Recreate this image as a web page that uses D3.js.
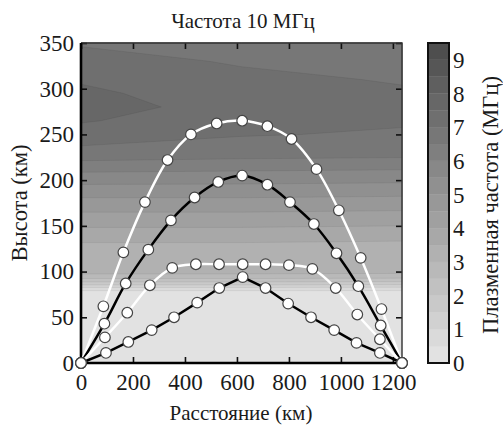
<!DOCTYPE html>
<html>
<head>
<meta charset="utf-8">
<script src="https://cdn.jsdelivr.net/npm/d3@7"></script>
<style>
  body { margin: 0; background: #fff; }
  text { font-family: "Liberation Serif", "Times New Roman", serif; fill: #1a1a1a; }
</style>
</head>
<body>
<div id="viz"></div>
<script>
// plasma frequency grid (MHz): columns at these distances, rows at these heights
const distances = [0, 617, 1235]
const heights = [0, 78, 82, 86, 90, 94, 98, 102, 130, 150, 170, 190, 210, 230, 250, 265, 280, 295, 310, 330, 350]
const freqLeft  = [0.2, 0.35, 0.9, 1.6, 2.2, 2.7, 3.05, 3.2, 3.45, 4.05, 4.65, 5.3, 6.05, 6.85, 7.25, 7.55, 7.75, 7.6, 7.45, 7.2, 6.95]
const freqMid   = [0.2, 0.35, 0.9, 1.6, 2.2, 2.7, 3.05, 3.2, 3.45, 4.05, 4.65, 5.3, 6.0, 6.75, 7.03, 7.15, 7.25, 7.22, 7.12, 6.95, 6.75]
const freqRight = [0.2, 0.35, 0.85, 1.55, 2.15, 2.65, 3.0, 3.15, 3.4, 4.0, 4.6, 5.25, 5.95, 6.7, 6.95, 7.05, 7.1, 7.06, 6.96, 6.8, 6.6]
const levels = [0, 0.5, 1, 1.5, 2, 2.5, 3, 3.5, 4, 4.5, 5, 5.5, 6, 6.5, 7, 7.5, 8, 8.5, 9]

// ray paths [distance km, height km]
const ray1 = [[0,0],[86,62],[163,121],[246,176],[333,222],[423,250],[522,262],[620,265],[717,259],[810,245],[906,212],[992,167],[1076,115],[1156,59],[1235,0]]
const ray2 = [[0,0],[90,43],[172,87],[259,124],[346,156],[437,181],[528,198],[620,205],[717,195],[804,176],[896,152],[983,120],[1067,84],[1153,41],[1235,0]]
const ray3 = [[0,0],[92,28],[178,55],[265,85],[351,104],[442,108],[531,108],[622,108],[710,108],[800,107],[890,103],[980,82],[1063,53],[1150,26],[1235,0]]
const ray4 = [[0,0],[96,11],[182,23],[272,36],[358,50],[447,66],[532,82],[622,94],[710,82],[797,65],[885,50],[974,36],[1060,22],[1150,11],[1235,0]]

const xTicks = [0, 200, 400, 600, 800, 1000, 1200]
const yTicks = [0, 50, 100, 150, 200, 250, 300, 350]
const cbTicks = [0, 1, 2, 3, 4, 5, 6, 7, 8, 9]

const width = 503
const height = 432
const margin = {top: 43, left: 81}
const plotW = 321
const plotH = 320

const svg = d3.select("#viz").append("svg").attr("width", width).attr("height", height)
const wrapper = svg.append("g").attr("transform", `translate(${margin.left},${margin.top})`)

const xScale = d3.scaleLinear().domain([0, 1235]).range([0, plotW])
const yScale = d3.scaleLinear().domain([0, 350]).range([plotH, 0])
const color = d3.scaleLinear().domain([0, 9.5]).range(["#e6e6e6", "#4a4a4a"])

// filled contours
const grid = []
heights.forEach((h, j) => grid.push(freqLeft[j], freqMid[j], freqRight[j]))
const contours = d3.contours().size([distances.length, heights.length]).thresholds(levels)(grid)
const gx = d3.scaleLinear().domain(distances.map((d, i) => i + 0.5)).range(distances).clamp(true)
const gy = d3.scaleLinear().domain(heights.map((d, i) => i + 0.5)).range(heights).clamp(true)
const proj = d3.geoTransform({point(x, y) { this.stream.point(xScale(gx(x)), yScale(gy(y))) }})
const path = d3.geoPath(proj)

wrapper.append("g").selectAll("path")
  .data(contours)
  .join("path")
  .attr("d", path)
  .attr("fill", d => color(d.value + 0.25))
  .attr("stroke", "rgba(0,0,0,0.1)")
  .attr("stroke-width", 0.6)

// axes, ticks inward
const tickStyle = g => {
  g.select(".domain").remove()
  g.selectAll(".tick line").attr("stroke", "#111").attr("stroke-width", 1.6)
  g.selectAll("text").style("font-size", "23px").attr("fill", "#1a1a1a")
}
wrapper.append("g").attr("transform", `translate(0,${plotH})`)
  .call(d3.axisBottom(xScale).tickValues(xTicks).tickFormat(d3.format("d")).tickSizeInner(-6).tickSizeOuter(0).tickPadding(11))
  .call(tickStyle)
wrapper.append("g")
  .call(d3.axisLeft(yScale).tickValues(yTicks).tickFormat(d3.format("d")).tickSizeInner(-6).tickSizeOuter(0).tickPadding(7))
  .call(tickStyle)
wrapper.append("g")
  .call(d3.axisTop(xScale).tickValues(xTicks).tickSizeInner(-6).tickSizeOuter(0).tickFormat(""))
  .call(tickStyle)
wrapper.append("g").attr("transform", `translate(${plotW},0)`)
  .call(d3.axisRight(yScale).tickValues(yTicks).tickSizeInner(-6).tickSizeOuter(0).tickFormat(""))
  .call(tickStyle)

// frame
wrapper.append("path")
  .attr("d", `M0,0H${plotW}V${plotH}`)
  .attr("fill", "none").attr("stroke", "#333").attr("stroke-width", 1.4)
wrapper.append("path")
  .attr("d", `M0,0V${plotH}H${plotW}`)
  .attr("fill", "none").attr("stroke", "#000").attr("stroke-width", 2.6)

// rays
const rays = [
  {pts: ray1, stroke: "#fff", curve: d3.curveCatmullRom},
  {pts: ray2, stroke: "#000", curve: d3.curveCatmullRom},
  {pts: ray3, stroke: "#fff", curve: d3.curveCatmullRom},
  {pts: ray4, stroke: "#000", curve: d3.curveLinear}
]
rays.forEach(r => {
  const line = d3.line().x(d => xScale(d[0])).y(d => yScale(d[1])).curve(r.curve)
  wrapper.append("path").attr("d", line(r.pts))
    .attr("fill", "none").attr("stroke", r.stroke).attr("stroke-width", 2.5)
})
rays.forEach(r => {
  wrapper.append("g").selectAll("circle")
    .data(r.pts)
    .join("circle")
    .attr("cx", d => xScale(d[0]))
    .attr("cy", d => yScale(d[1]))
    .attr("r", 5.3)
    .attr("fill", "#fff")
    .attr("stroke", "#444")
    .attr("stroke-width", 1.2)
})

// colorbar
const cbX = 428, cbW = 21
const cbScale = d3.scaleLinear().domain([0, 9.5]).range([margin.top + plotH, margin.top])
svg.append("g").selectAll("rect")
  .data(levels)
  .join("rect")
  .attr("x", cbX)
  .attr("y", d => cbScale(d + 0.5))
  .attr("width", cbW)
  .attr("height", d => cbScale(d) - cbScale(d + 0.5))
  .attr("fill", d => color(d + 0.25))
  .attr("stroke", d => color(d + 0.25))
  .attr("stroke-width", 0.3)
svg.append("rect")
  .attr("x", cbX).attr("y", margin.top).attr("width", cbW).attr("height", plotH)
  .attr("fill", "none").attr("stroke", "#111").attr("stroke-width", 2)
svg.append("g").selectAll("text")
  .data(cbTicks)
  .join("text")
  .attr("x", 453)
  .attr("y", d => cbScale(d))
  .attr("dy", "0.35em")
  .style("font-size", "23px")
  .text(d => d)

// titles
svg.append("text").attr("x", 243).attr("y", 28).attr("text-anchor", "middle")
  .style("font-size", "21px").text("Частота 10 МГц")
svg.append("text").attr("x", 241).attr("y", 420).attr("text-anchor", "middle")
  .style("font-size", "21px").text("Расстояние (км)")
svg.append("text").attr("transform", "translate(27,203) rotate(-90)").attr("text-anchor", "middle")
  .style("font-size", "22.5px").text("Высота (км)")
svg.append("text").attr("transform", "translate(498,205) rotate(-90)").attr("text-anchor", "middle")
  .style("font-size", "22.5px").text("Плазменная частота (МГц)")
</script>
</body>
</html>
